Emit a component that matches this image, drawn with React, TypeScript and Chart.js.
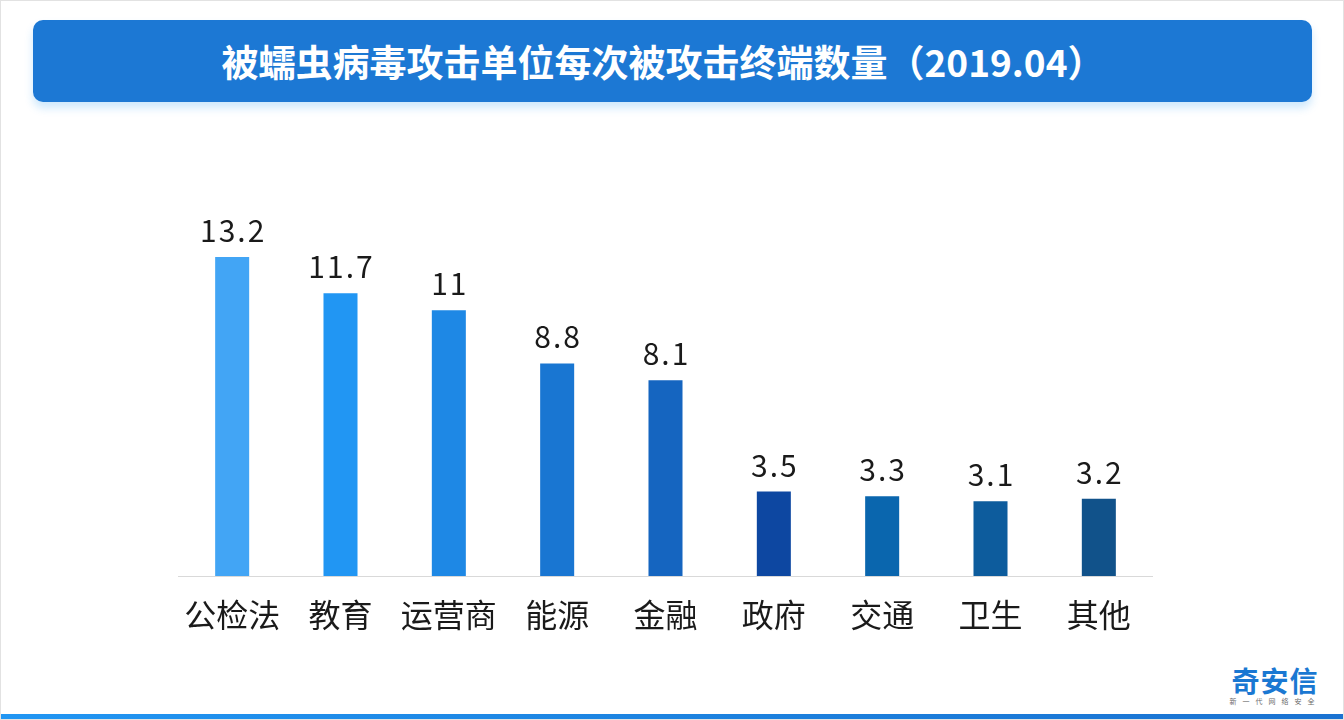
import React, { useEffect, useRef } from "react";
import { Chart, registerables } from "chart.js";

Chart.register(...registerables);

const TITLE = "被蠕虫病毒攻击单位每次被攻击终端数量（2019.04）";
const categories = ["公检法", "教育", "运营商", "能源", "金融", "政府", "交通", "卫生", "其他"];
const values = [13.2, 11.7, 11, 8.8, 8.1, 3.5, 3.3, 3.1, 3.2];
const barColors = [
  "#42a5f5",
  "#2196f3",
  "#1e88e5",
  "#1976d2",
  "#1565c0",
  "#0d47a1",
  "#0a66ae",
  "#0d5c9d",
  "#11528a",
];

const CJK = '"Noto Sans CJK SC", "Noto Sans", sans-serif';

const valueLabelPlugin = {
  id: "valueLabels",
  afterDatasetsDraw(chart: any) {
    const ctx = chart.ctx;
    const meta = chart.getDatasetMeta(0);
    ctx.save();
    ctx.font = `30px ${CJK}`;
    ctx.fillStyle = "#1a1a1a";
    ctx.textAlign = "center";
    ctx.textBaseline = "alphabetic";
    try {
      (ctx as any).letterSpacing = "2px";
    } catch (e) {}
    meta.data.forEach((bar: any, i: number) => {
      const v = chart.data.datasets[0].data[i];
      ctx.fillText(String(v), bar.x + 1, bar.y - 15);
    });
    ctx.restore();
  },
};

export default function App() {
  const canvasRef = useRef<HTMLCanvasElement | null>(null);

  useEffect(() => {
    document.body.style.margin = "0";
    const canvas = canvasRef.current;
    if (!canvas) return;
    const chart = new Chart(canvas, {
      type: "bar",
      data: {
        labels: categories,
        datasets: [
          {
            data: values,
            backgroundColor: barColors,
            borderWidth: 0,
            barPercentage: 0.314,
            categoryPercentage: 1,
          },
        ],
      },
      options: {
        animation: false,
        responsive: false,
        maintainAspectRatio: false,
        layout: { padding: { top: 213.6, bottom: 8, left: 0, right: 0 } },
        plugins: {
          legend: { display: false },
          tooltip: { enabled: false },
          title: { display: false },
        },
        scales: {
          x: {
            grid: { display: false, drawTicks: false },
            border: { display: true, color: "#d9d9d9", width: 1 },
            ticks: {
              color: "#1a1a1a",
              padding: 6,
              font: { family: CJK, size: 32, lineHeight: 2.06 },
              maxRotation: 0,
              autoSkip: false,
            },
          },
          y: {
            display: false,
            min: 0,
            max: 15,
          },
        },
      },
      plugins: [valueLabelPlugin],
    });
    return () => chart.destroy();
  }, []);

  return (
    <div
      style={{
        position: "fixed",
        left: 0,
        top: 0,
        width: 1344,
        height: 720,
        background: "#ffffff",
        boxSizing: "border-box",
        border: "1px solid #e2e2e2",
        overflow: "hidden",
        fontFamily: CJK,
      }}
    >
      <div
        style={{
          position: "absolute",
          left: 32,
          top: 19,
          width: 1279,
          height: 82,
          borderRadius: 10,
          background: "#1c78d4",
          boxShadow: "0 6px 8px rgba(33,150,243,0.22)",
        }}
      />
      <div
        style={{
          position: "absolute",
          left: 0,
          top: 19,
          width: 1324,
          height: 82,
          lineHeight: "82px",
          textAlign: "center",
          color: "#ffffff",
          fontWeight: 700,
          fontSize: 37,
          fontFamily: CJK,
          whiteSpace: "nowrap",
        }}
      >
        {TITLE}
      </div>
      <canvas
        ref={canvasRef}
        width={975}
        height={662}
        style={{ position: "absolute", left: 177, top: -1, width: 975, height: 662 }}
      />
      <div
        style={{
          position: "absolute",
          left: 1227,
          top: 661,
          width: 94,
          textAlign: "center",
          color: "#1a78d2",
          fontWeight: 700,
          fontSize: 28,
          lineHeight: "36px",
          letterSpacing: 1,
          fontFamily: CJK,
        }}
      >
        奇安信
      </div>
      <div
        style={{
          position: "absolute",
          left: 1226,
          top: 695,
          width: 96,
          textAlign: "center",
          color: "#6b6b6b",
          fontSize: 7,
          lineHeight: "10px",
          letterSpacing: 6,
          fontFamily: CJK,
          whiteSpace: "nowrap",
        }}
      >
        新一代网络安全
      </div>
      <div
        style={{
          position: "absolute",
          left: -1,
          top: 713,
          width: 1344,
          height: 7,
          background: "linear-gradient(90deg, #2196f3 0%, #1c7fdc 60%, #1a72d1 100%)",
        }}
      />
    </div>
  );
}
